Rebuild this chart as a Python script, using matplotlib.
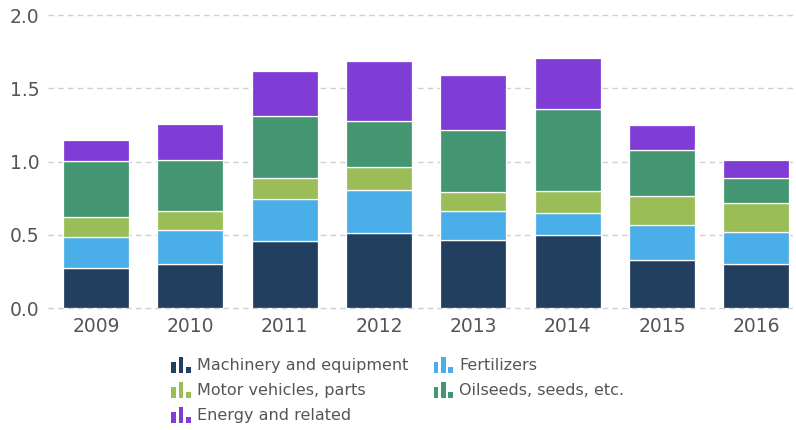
import matplotlib
matplotlib.use("Agg")
import matplotlib.pyplot as plt
from matplotlib.patches import Rectangle
from matplotlib.legend_handler import HandlerBase
import numpy as np

years = ["2009", "2010", "2011", "2012", "2013", "2014", "2015", "2016"]
machinery = [0.27, 0.30, 0.46, 0.51, 0.467, 0.50, 0.33, 0.30]
fertilizers = [0.215, 0.23, 0.285, 0.295, 0.194, 0.15, 0.237, 0.22]
motor = [0.14, 0.13, 0.14, 0.16, 0.129, 0.15, 0.198, 0.196]
oilseeds = [0.38, 0.35, 0.43, 0.31, 0.424, 0.56, 0.312, 0.171]
energy = [0.145, 0.245, 0.305, 0.41, 0.376, 0.35, 0.171, 0.121]

series_names = ["Machinery and equipment", "Fertilizers", "Motor vehicles, parts",
                "Oilseeds, seeds, etc.", "Energy and related"]
colors = ["#233f5f", "#4aaee9", "#9bbd57", "#449673", "#7f3dd5"]
series = [machinery, fertilizers, motor, oilseeds, energy]

fig = plt.figure(figsize=(7.96, 4.30), dpi=100)
ax = fig.add_axes([48/796, 1-308/430, 1-48/796, (308-15.3)/430])

x = np.arange(len(years))
bottom = np.zeros(len(years))
handles = []
for vals, c, name in zip(series, colors, series_names):
    b = ax.bar(x, vals, 0.7, bottom=bottom, color=c, edgecolor="white",
               linewidth=0.9, label=name, zorder=3)
    handles.append(b)
    bottom += np.array(vals)

ax.set_xlim(-0.51, 7.42)
ax.set_ylim(0, 2.0)
ax.set_yticks([0, 0.5, 1.0, 1.5, 2.0])
ax.set_yticklabels(["0.0", "0.5", "1.0", "1.5", "2.0"])
ax.set_xticks(x)
ax.set_xticklabels(years)
ax.tick_params(axis="both", length=0, labelsize=13.5, labelcolor="#555555")
ax.tick_params(axis="y", pad=6)
ax.tick_params(axis="x", pad=6.5)
for s in ax.spines.values():
    s.set_visible(False)
ax.yaxis.grid(True, linestyle=(0, (4, 3)), color="#d0d0d0", linewidth=1, zorder=0)
for gl in ax.get_ygridlines():
    gl.set_clip_on(False)


class BarIconHandler(HandlerBase):
    def create_artists(self, legend, orig_handle, xdescent, ydescent, width, height, fontsize, trans):
        c = orig_handle.patches[0].get_facecolor()
        bw = width * 0.24
        gap = width * 0.14
        hs = [0.75, 1.1, 0.4]
        arts = []
        for i, h in enumerate(hs):
            r = Rectangle((-xdescent + i * (bw + gap), -ydescent - height * 0.08), bw, height * h,
                          facecolor=c, edgecolor="none", transform=trans)
            arts.append(r)
        return arts


order = [0, 2, 4, 1, 3]
leg = fig.legend([handles[i] for i in order], [series_names[i] for i in order],
                 ncol=2, loc="upper left",
                 bbox_to_anchor=(157/796, 1-343/430), frameon=False,
                 handler_map={type(handles[0]): BarIconHandler()},
                 handlelength=1.2, handleheight=1.0, handletextpad=0.4,
                 columnspacing=1.6, labelspacing=0.58, fontsize=11.5)
for t in leg.get_texts():
    t.set_color("#555555")

fig.savefig("out.png", dpi=100)
